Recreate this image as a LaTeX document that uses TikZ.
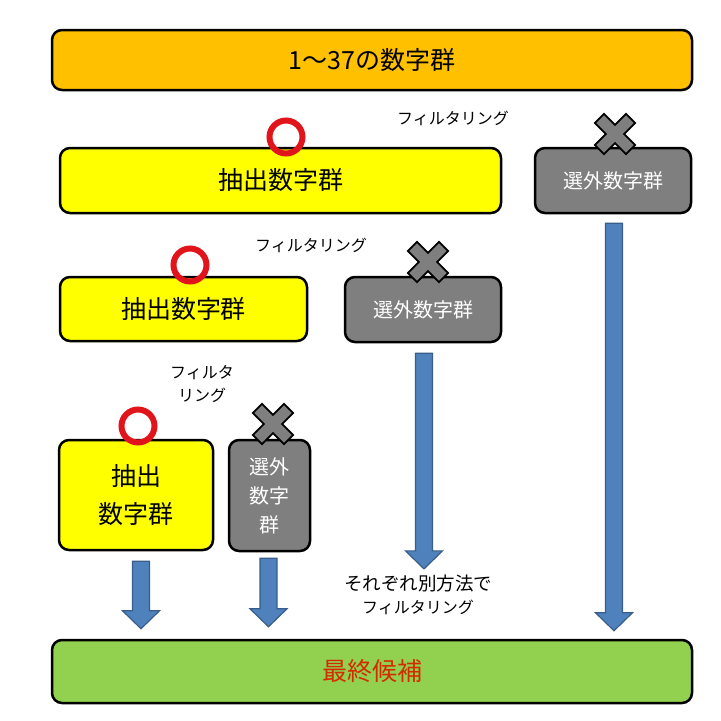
\documentclass[tikz,border=0pt]{standalone}
\usepackage{fontspec}
\setmainfont{Noto Sans CJK JP}
\usetikzlibrary{calc}
\definecolor{topfill}{HTML}{FFC000}
\definecolor{yfill}{HTML}{FFFF00}
\definecolor{gfill}{HTML}{7F7F7F}
\definecolor{greenfill}{HTML}{92D050}
\definecolor{finaltext}{HTML}{D42A00}
\definecolor{ringred}{HTML}{E0141A}
\definecolor{arrowblue}{HTML}{4F81BD}
\definecolor{arrowedge}{HTML}{385D8A}
\tikzset{
  box/.style={draw=black, line width=2.5pt, rounded corners=10pt, inner sep=0pt, align=center},
  topbox/.style={box, fill=topfill, font=\fontsize{25}{30}\selectfont},
  pickbox/.style={box, fill=yfill, font=\fontsize{25}{38}\selectfont},
  dropbox/.style={box, fill=gfill, text=white, font=\fontsize{20}{29}\selectfont},
  finalbox/.style={box, fill=greenfill, text=finaltext, font=\fontsize{25}{30}\selectfont},
  lbl/.style={inner sep=0pt, align=center, font=\fontsize{16}{23}\selectfont},
  ring/.style={draw=ringred, line width=6pt},
  xmark/.pic={
    \draw[fill=gfill, line width=1.8pt, line join=miter, rotate=45]
      (6.5,22) -- (6.5,6.5) -- (22,6.5) -- (22,-6.5) -- (6.5,-6.5) -- (6.5,-22)
      -- (-6.5,-22) -- (-6.5,-6.5) -- (-22,-6.5) -- (-22,6.5) -- (-6.5,6.5) -- (-6.5,22) -- cycle;
  }
}
\newcommand{\blockarrow}[2]{%
  \path let \p1=(#1), \p2=(#2) in
    [fill=arrowblue, draw=arrowedge, line width=1.2pt, line join=miter]
    (\x1-8.5pt,\y1) -- (\x1+8.5pt,\y1) -- (\x1+8.5pt,\y2+18pt) -- (\x1+18.5pt,\y2+18pt)
    -- (\x1,\y2) -- (\x1-18.5pt,\y2+18pt) -- (\x1-8.5pt,\y2+18pt) -- cycle;}
\begin{document}
\begin{tikzpicture}[x=1pt,y=-1pt]
\useasboundingbox (0,0) rectangle (721,721);
% boxes
\node[topbox, minimum width=640pt, minimum height=60pt] (top) at (372,60) {1〜37の数字群};
\node[pickbox, minimum width=441pt, minimum height=65pt] (pick1) at (280.5,180.5) {抽出数字群};
\node[dropbox, minimum width=156pt, minimum height=65pt] (drop1) at (613,180.5) {選外数字群};
\node[pickbox, minimum width=247pt, minimum height=64pt] (pick2) at (183.5,309) {抽出数字群};
\node[dropbox, minimum width=156pt, minimum height=65pt] (drop2) at (423,309.5) {選外数字群};
\node[pickbox, minimum width=154pt, minimum height=110pt] (pick3) at (136,495) {抽出\\数字群};
\node[dropbox, minimum width=81pt, minimum height=111pt] (drop3) at (269.5,495.5) {選外\\数字\\群};
\node[finalbox, minimum width=640pt, minimum height=63pt] (final) at (372,671.5) {最終候補};
% labels
\node[lbl] (f1) at (453,118) {フィルタリング};
\node[lbl] (f2) at (311,245) {フィルタリング};
\node[lbl] (f3) at (202,384) {フィルタ\\リング};
\node[lbl] (f4) at (418,595) {{\fontsize{18.5}{23}\selectfont それぞれ別方法で}\\フィルタリング};
% rings and crosses
\draw[ring] (286,137) circle (16.5);
\draw[ring] (190,265) circle (16.5);
\draw[ring] (138,426) circle (16.5);
\pic at (615,134) {xmark};
\pic at (428,262) {xmark};
\pic at (273,424) {xmark};
% arrows
\coordinate (a1s) at ($(drop1.south)+(1,9)$);
\coordinate (a1e) at ($(a1s |- final.north)+(0,-8)$);
\coordinate (a2s) at ($(drop2.south)+(1,10)$);
\coordinate (a2e) at ($(a2s |- f4.north)+(0,-6)$);
\coordinate (a3s) at ($(pick3.south)+(5,10)$);
\coordinate (a3e) at ($(a3s |- final.north)+(0,-10)$);
\coordinate (a4s) at ($(drop3.south)+(-1,6)$);
\coordinate (a4e) at ($(a4s |- final.north)+(0,-12)$);
\blockarrow{a1s}{a1e}
\blockarrow{a2s}{a2e}
\blockarrow{a3s}{a3e}
\blockarrow{a4s}{a4e}
\end{tikzpicture}
\end{document}
